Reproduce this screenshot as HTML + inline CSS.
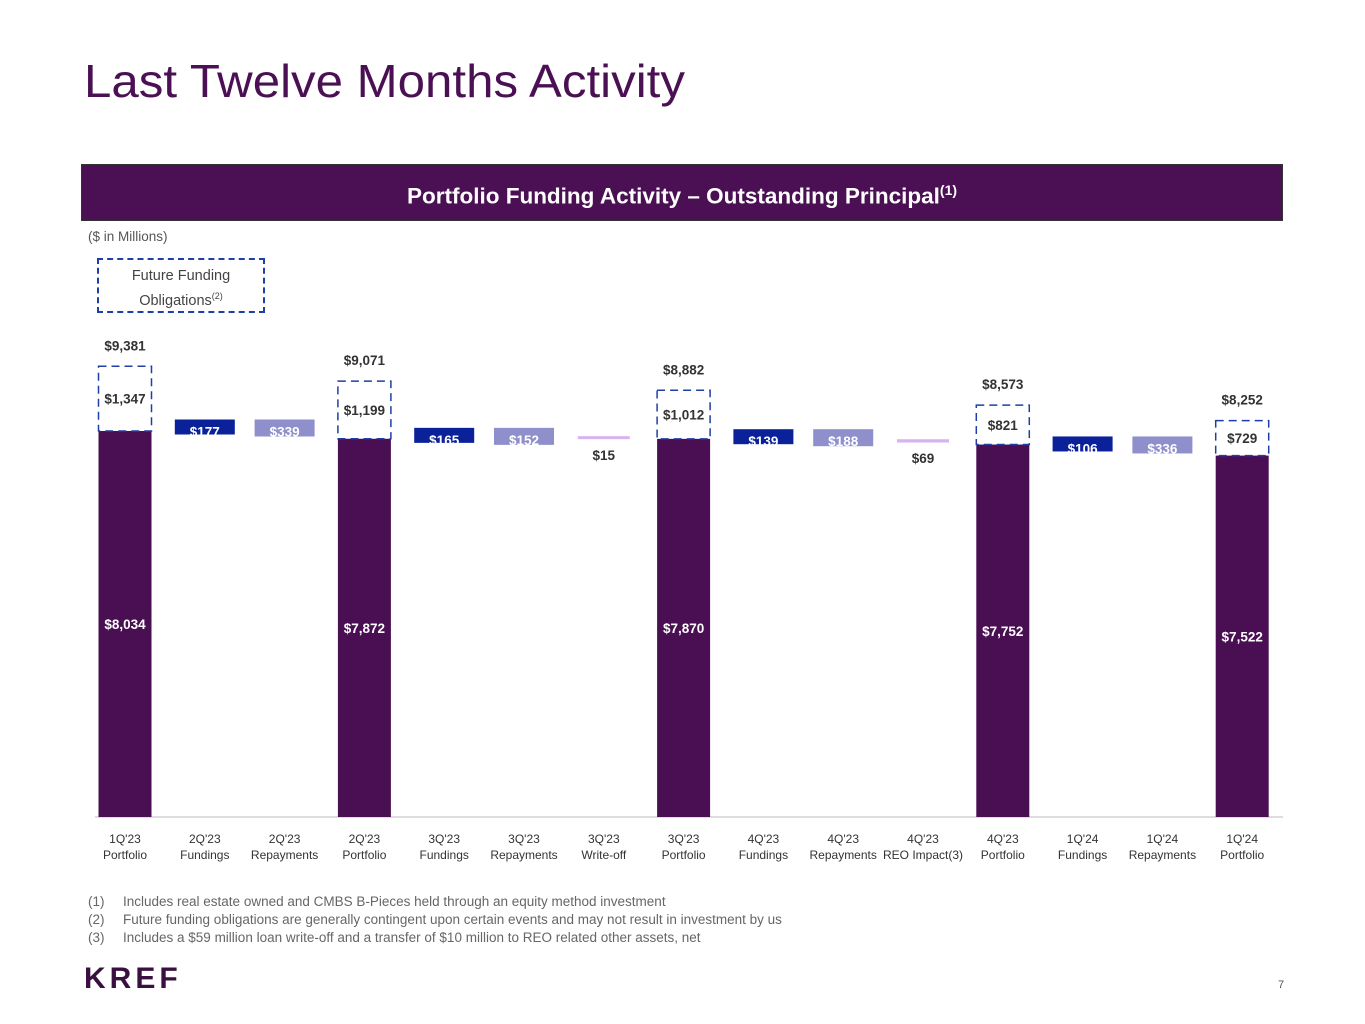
<!DOCTYPE html>
<html><head><meta charset="utf-8"><style>
body{margin:0;background:#fff;font-family:"Liberation Sans",sans-serif;}
#root{position:relative;width:1365px;height:1024px;overflow:hidden;}
.t{position:absolute;}
</style></head><body>
<div id="root">
<div class="t" style="left:84px;top:54px;font-size:46px;color:#4b1054;transform:scaleX(1.07);transform-origin:left top;">Last Twelve Months Activity</div>
<div class="t" style="left:81px;top:164px;width:1200px;height:55px;background:#4b1054;border:1px solid #333;color:#fff;font-weight:bold;font-size:22.5px;text-align:center;line-height:50px;">Portfolio Funding Activity – Outstanding Principal<sup style="font-size:14px">(1)</sup></div>
<div class="t" style="left:88px;top:229px;font-size:13.5px;color:#555;">($ in Millions)</div>
<div class="t" style="left:97px;top:258px;width:168px;height:55px;border:2px dashed #1f3fa8;font-size:14.5px;color:#444;text-align:center;line-height:20px;box-sizing:border-box;padding-top:6px;">Future Funding<br>Obligations<sup style="font-size:9px">(2)</sup></div>
<svg class="t" style="left:0;top:0" width="1365" height="1024" id="chart"></svg>
<div class="t" style="left:88px;top:893px;font-size:13.5px;color:#666;line-height:18px;">
<div><span style="display:inline-block;width:35px">(1)</span>Includes real estate owned and CMBS B-Pieces held through an equity method investment</div>
<div><span style="display:inline-block;width:35px">(2)</span>Future funding obligations are generally contingent upon certain events and may not result in investment by us</div>
<div><span style="display:inline-block;width:35px">(3)</span>Includes a $59 million loan write-off and a transfer of $10 million to REO related other assets, net</div>
</div>
<div class="t" style="left:84px;top:962px;font-size:30px;font-weight:bold;color:#3a1040;letter-spacing:4px;">KREF</div>
<div class="t" style="left:1278px;top:979px;font-size:11px;color:#555;">7</div>
</div>
<script>
const categories=["1Q'23|Portfolio","2Q'23|Fundings","2Q'23|Repayments","2Q'23|Portfolio","3Q'23|Fundings","3Q'23|Repayments","3Q'23|Write-off","3Q'23|Portfolio","4Q'23|Fundings","4Q'23|Repayments","4Q'23|REO Impact","4Q'23|Portfolio","1Q'24|Fundings","1Q'24|Repayments","1Q'24|Portfolio"];
const kinds=["p","f","r","p","f","r","w","p","f","r","w","p","f","r","p"];
const values=[8034,177,339,7872,165,152,15,7870,139,188,69,7752,106,336,7522];
const futureFunding=[1347,0,0,1199,0,0,0,1012,0,0,0,821,0,0,729];
const totals=[9381,0,0,9071,0,0,0,8882,0,0,0,8573,0,0,8252];
const svg=document.getElementById('chart');
const NS="http://www.w3.org/2000/svg";
const base=817,k=386/8034;
const y=v=>base-v*k;
const xc=i=>125+i*79.8;
function el(t,a){const e=document.createElementNS(NS,t);for(const key in a)e.setAttribute(key,a[key]);svg.appendChild(e);return e;}
function txt(x,yy,s,fill,name){const e=el('text',{x:x,y:yy,'text-anchor':'middle','font-size':13.5,'font-weight':'bold',fill:fill,'font-family':'Liberation Sans, sans-serif'});e.textContent=s;

return e;}
const fmt=v=>'$'+v.toLocaleString('en-US');
let a=el('line',{x1:95,x2:1283,y1:base,y2:base,stroke:'#bbb','stroke-width':1});


let level=0;
categories.forEach((c,i)=>{
 const x=xc(i),v=values[i],kd=kinds[i];let r;
 if(kd==='p'){level=v;
  r=el('rect',{x:x-26.5,y:y(v),width:53,height:v*k,fill:'#4a0e52'});
  txt(x,y(v/2)+5,fmt(v),'#fff','bar-value-label');
  const ff=futureFunding[i];
  const d=el('rect',{x:x-26.5,y:y(v+ff),width:53,height:ff*k,fill:'none',stroke:'#1f3fa8','stroke-width':1.5,'stroke-dasharray':'8,5'});
  
  
  txt(x,y(v+ff/2)+5,fmt(ff),'#333','future-funding-label');
  txt(x,y(v+ff)-16,fmt(totals[i]),'#333','total-label');
 } else if(kd==='f'){
  r=el('rect',{x:x-30,y:y(level+v)-3,width:60,height:Math.max(v*k,15),fill:'#0a2199'});
  txt(x,y(level+v)+14,fmt(v),'#fff','funding-label');level+=v;
 } else if(kd==='r'){
  r=el('rect',{x:x-30,y:y(level)-3,width:60,height:Math.max(v*k,17),fill:'#8f8fcc'});
  txt(x,y(level)+14,fmt(v),'#fff','repayment-label');level-=v;
 } else {
  r=el('rect',{x:x-26,y:y(level)-2,width:52,height:Math.max(v*k,3),fill:'#d9b3f0'});
  txt(x,y(level)+22,fmt(v),'#333','writeoff-label');level-=v;
 }
 
 
 const [l1,l2]=c.split('|');
 const t1=el('text',{x:x,y:843,'text-anchor':'middle','font-size':12,fill:'#333','font-family':'Liberation Sans, sans-serif'});t1.textContent=l1;
 
 
 const t2=el('text',{x:x,y:859,'text-anchor':'middle','font-size':12,fill:'#333','font-family':'Liberation Sans, sans-serif'});t2.textContent=l2+(l2==='REO Impact'?'(3)':'');
 
 
});
</script>
</body></html>
